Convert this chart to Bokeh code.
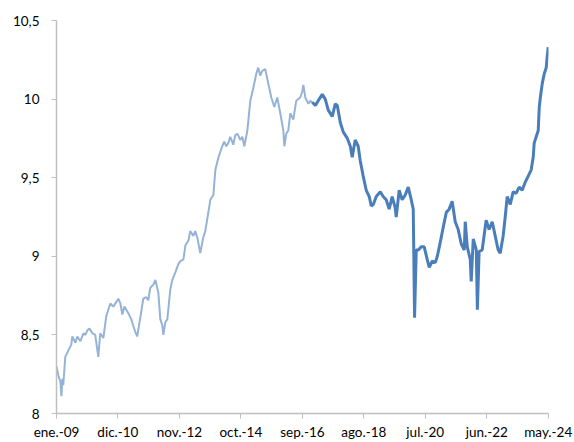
import pandas as pd
from bokeh.plotting import figure
from bokeh.models import FixedTicker, Range1d, ColumnDataSource, CustomJSTickFormatter
from bokeh.embed import file_html
from bokeh.resources import INLINE

# Light series (older history)
dates_a = ["2009-01-01","2009-01-23","2009-02-15","2009-02-26","2009-03-08","2009-03-19","2009-04-11",
"2009-05-15","2009-06-19","2009-06-30","2009-08-04","2009-08-26","2009-09-30","2009-11-04","2009-11-26",
"2009-12-19","2010-01-11","2010-02-14","2010-03-18","2010-04-22","2010-05-14","2010-06-18","2010-07-22",
"2010-08-14","2010-09-06","2010-10-10","2010-11-13","2010-12-06","2010-12-29","2011-01-21","2011-02-13",
"2011-03-28","2011-05-02","2011-05-24","2011-06-17","2011-07-09","2011-08-13","2011-09-16","2011-10-20",
"2011-11-12","2011-12-05","2012-01-09","2012-02-01","2012-03-05","2012-03-28","2012-04-20","2012-05-01",
"2012-05-24","2012-06-16","2012-07-20","2012-08-12","2012-09-16","2012-10-20","2012-11-12","2012-12-16",
"2013-01-08","2013-02-11","2013-03-04","2013-04-08","2013-04-30","2013-05-23","2013-06-26","2013-07-30",
"2013-08-22","2013-09-26","2013-10-19","2013-11-22","2013-12-15","2014-01-19","2014-03-03","2014-03-26",
"2014-04-18","2014-05-11","2014-06-03","2014-07-07","2014-07-29","2014-08-22","2014-09-25","2014-10-18",
"2014-11-10","2014-12-14","2015-01-17","2015-02-20","2015-03-25","2015-04-17","2015-05-10","2015-06-02",
"2015-07-06","2015-08-09","2015-09-13","2015-10-17","2015-11-20","2015-12-24","2016-01-28","2016-02-08",
"2016-03-01","2016-03-24","2016-04-16","2016-05-20","2016-06-23","2016-08-08","2016-08-31","2016-09-12",
"2016-10-04","2016-11-08","2016-12-01","2016-12-23"]
values_a = [8.30,8.24,8.20,8.11,8.22,8.18,8.36,
8.40,8.44,8.49,8.45,8.49,8.46,8.51,8.50,
8.53,8.54,8.51,8.50,8.36,8.51,8.48,8.62,
8.66,8.70,8.68,8.71,8.73,8.70,8.63,8.68,
8.64,8.60,8.56,8.52,8.49,8.61,8.73,8.74,
8.72,8.80,8.82,8.85,8.77,8.60,8.56,8.50,
8.58,8.60,8.79,8.85,8.90,8.95,8.97,8.98,
9.07,9.10,9.16,9.13,9.16,9.12,9.02,9.12,
9.16,9.28,9.36,9.39,9.55,9.63,9.70,9.73,
9.70,9.72,9.76,9.71,9.77,9.78,9.74,9.76,
9.70,9.80,9.99,10.07,10.16,10.20,10.15,10.18,
10.19,10.10,10.01,9.95,10.01,9.91,9.80,9.70,
9.78,9.80,9.91,9.87,9.99,10.01,10.05,10.09,
10.01,9.97,9.99,9.98]

# Dark series (recent history)
dates_b = ["2016-12-23","2017-01-27","2017-02-28","2017-04-15","2017-05-19","2017-06-22","2017-08-07",
"2017-09-10","2017-10-03","2017-11-07","2017-12-11","2018-01-26","2018-02-28","2018-03-22","2018-04-25",
"2018-05-29","2018-06-21","2018-07-25","2018-08-29","2018-10-02","2018-10-25","2018-11-17","2018-12-21",
"2019-02-05","2019-03-09","2019-04-13","2019-05-17","2019-06-20","2019-07-24","2019-08-05","2019-09-08",
"2019-10-12","2019-11-16","2019-12-20","2020-01-23","2020-02-15","2020-03-01","2020-03-20","2020-04-12",
"2020-05-16","2020-06-19","2020-07-23","2020-08-15","2020-09-19","2020-10-23","2020-11-15","2020-12-19",
"2021-01-23","2021-02-26","2021-03-30","2021-05-03","2021-06-07","2021-07-11","2021-08-14","2021-09-18",
"2021-09-29","2021-10-22","2021-11-25","2021-12-06","2021-12-29","2022-02-02","2022-02-14","2022-03-06",
"2022-04-10","2022-05-25","2022-06-28","2022-08-02","2022-09-05","2022-10-09","2022-11-01","2022-12-05",
"2022-12-28","2023-01-20","2023-02-24","2023-03-28","2023-05-01","2023-06-05","2023-07-09","2023-08-12",
"2023-09-16","2023-10-20","2023-11-12","2023-11-23","2023-12-16","2024-01-08","2024-01-20","2024-02-01",
"2024-02-23","2024-03-16","2024-04-08","2024-04-19","2024-05-01"]
values_b = [9.98,9.96,9.99,10.03,10.00,9.93,9.89,
9.97,9.96,9.85,9.79,9.75,9.70,9.63,9.74,
9.70,9.61,9.51,9.42,9.38,9.32,9.33,9.38,
9.41,9.38,9.36,9.30,9.38,9.31,9.25,9.42,
9.36,9.39,9.44,9.36,9.30,8.61,9.04,9.04,
9.06,9.06,8.98,8.93,8.97,8.96,9.00,9.09,
9.19,9.28,9.30,9.35,9.22,9.17,9.08,9.04,
9.22,9.06,8.98,8.84,9.11,9.04,8.66,9.03,
9.04,9.23,9.17,9.22,9.13,9.04,9.02,9.13,
9.25,9.38,9.33,9.41,9.40,9.44,9.42,9.47,
9.51,9.55,9.63,9.72,9.76,9.80,9.95,10.01,
10.10,10.16,10.20,10.27,10.33]

tick_dates = ["2009-01-01","2010-12-01","2012-11-01","2014-10-01","2016-09-01",
              "2018-08-01","2020-07-01","2022-06-01","2024-05-01"]
tick_labels = ["ene.-09","dic.-10","nov.-12","oct.-14","sep.-16",
               "ago.-18","jul.-20","jun.-22","may.-24"]
y_ticks = [8, 8.5, 9, 9.5, 10, 10.5]
y_labels = ["8", "8,5", "9", "9,5", "10", "10,5"]

src_a = ColumnDataSource(dict(x=pd.to_datetime(dates_a), y=values_a))
src_b = ColumnDataSource(dict(x=pd.to_datetime(dates_b), y=values_b))

tick_ms = [pd.Timestamp(d).value / 1e6 for d in tick_dates]

p = figure(width=574, height=442, output_backend="svg", toolbar_location=None,
           x_axis_type="datetime",
           x_range=Range1d(tick_ms[0], tick_ms[-1] + 3 * 86400000.0),
           y_range=Range1d(8, 10.5),
           min_border_left=56, min_border_right=26, min_border_top=20, min_border_bottom=27)

p.line("x", "y", source=src_a, line_color="#95b3d7", line_width=2.0)
p.line("x", "y", source=src_b, line_color="#4a7ebb", line_width=3.0)

p.xgrid.visible = False
p.ygrid.visible = False
p.outline_line_color = None
p.background_fill_color = "white"

for ax in (p.xaxis[0], p.yaxis[0]):
    ax.axis_line_color = "#bfbfbf"
    ax.axis_line_width = 1.5
    ax.major_tick_line_color = "#bfbfbf"
    ax.major_tick_out = 5
    ax.major_tick_in = 0
    ax.minor_tick_line_color = None
    ax.major_label_text_font = "Lato"
    ax.major_label_text_font_size = "13.5px"
    ax.major_label_text_color = "#000000"

lookup_js = """
for (let i = 0; i < tvals.length; i++) {
    if (Math.abs(tvals[i] - tick) < 1e-6 * Math.max(1, Math.abs(tick))) { return tlabels[i]; }
}
return String(tick);
"""

p.xaxis[0].ticker = FixedTicker(ticks=tick_ms)
p.xaxis[0].formatter = CustomJSTickFormatter(args=dict(tvals=tick_ms, tlabels=tick_labels), code=lookup_js)
p.xaxis[0].major_label_standoff = 5

p.yaxis[0].ticker = FixedTicker(ticks=y_ticks)
p.yaxis[0].formatter = CustomJSTickFormatter(args=dict(tvals=y_ticks, tlabels=y_labels), code=lookup_js)
p.yaxis[0].major_label_standoff = 12

open("out.html", "w").write(file_html(p, INLINE))
